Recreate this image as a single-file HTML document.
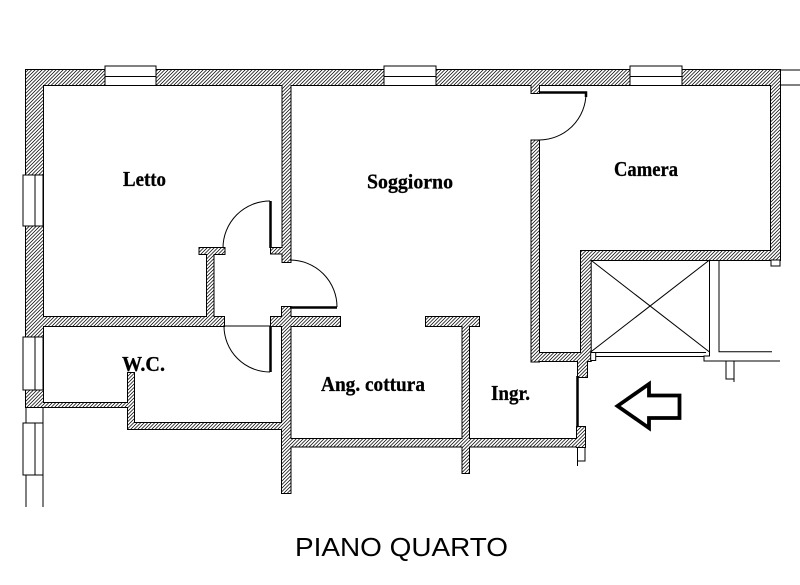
<!DOCTYPE html>
<html><head><meta charset="utf-8"><style>html,body{margin:0;padding:0;background:#fff;}svg{display:block}</style></head>
<body>
<svg width="800" height="585" viewBox="0 0 800 585" xmlns="http://www.w3.org/2000/svg">
<defs>
<pattern id="h" width="3.5" height="3.5" patternUnits="userSpaceOnUse">
<rect width="3.5" height="3.5" fill="#fff"/>
<path d="M-0.5,0.5 L0.5,-0.5 M0,3.5 L3.5,0 M3,4 L4,3" stroke="#000" stroke-width="0.75"/>
</pattern>
<g id="w">
<rect x="26" y="70" width="754" height="15"/>
<rect x="26" y="70" width="17" height="337"/>
<rect x="282.5" y="85" width="8" height="177"/>
<rect x="271" y="248" width="11.5" height="5.5"/>
<rect x="199.5" y="248" width="25" height="6"/>
<rect x="207" y="254" width="6.5" height="63"/>
<rect x="43" y="317" width="181" height="9"/>
<rect x="271" y="317" width="69" height="9"/>
<rect x="282" y="307" width="8.5" height="186"/>
<rect x="43" y="403" width="85" height="4"/>
<rect x="128" y="373" width="6" height="56"/>
<rect x="128" y="423" width="154" height="6"/>
<rect x="426" y="317" width="53" height="9"/>
<rect x="462.5" y="326" width="6.5" height="147"/>
<rect x="290" y="439" width="287" height="7.5"/>
<rect x="577" y="427" width="8" height="20"/>
<rect x="531.5" y="140.5" width="7.5" height="221"/>
<rect x="531.5" y="85" width="7.5" height="8"/>
<rect x="531.5" y="353" width="50" height="8"/>
<rect x="581" y="251" width="9.7" height="110"/>
<rect x="578" y="360" width="9" height="17"/>
<rect x="581" y="251" width="199" height="9"/>
<rect x="771" y="70" width="9" height="190"/>
</g>
</defs>
<rect width="800" height="585" fill="#fff"/>
<use href="#w" fill="none" stroke="#000" stroke-width="2"/>
<use href="#w" fill="url(#h)" stroke="none"/>

<g fill="#fff" stroke="#000" stroke-width="1">
<rect x="105" y="66" width="51" height="19.5"/>
<rect x="384" y="66" width="52" height="19.5"/>
<rect x="630" y="66" width="52" height="19.5"/>
<rect x="23" y="175" width="20" height="51"/>
<rect x="23" y="337" width="20" height="53"/>
<rect x="23" y="423" width="20" height="52"/>
<rect x="771" y="260" width="9" height="6"/>
<rect x="590.7" y="352.5" width="5" height="8"/>
</g>
<g fill="none" stroke="#000" stroke-width="1">
<line x1="105" y1="76.5" x2="156" y2="76.5"/>
<line x1="384" y1="76.5" x2="436" y2="76.5"/>
<line x1="630" y1="76.5" x2="682" y2="76.5"/>
<line x1="35" y1="175" x2="35" y2="226"/>
<line x1="35" y1="337" x2="35" y2="390"/>
<line x1="35" y1="423" x2="35" y2="475"/>
<line x1="26" y1="407" x2="26" y2="423"/>
<line x1="43" y1="407" x2="43" y2="423"/>
<line x1="26" y1="475" x2="26" y2="507"/>
<line x1="43" y1="475" x2="43" y2="507"/>
<line x1="780" y1="70" x2="800" y2="70"/>
<line x1="780" y1="85" x2="800" y2="85"/>
<path d="M270,201 A47,47 0 0 0 223,248"/>
<path d="M290,260 A47,47 0 0 1 337,307"/>
<path d="M224,326 A46,46 0 0 0 270,372"/>
<path d="M586,93 A47,47 0 0 1 539,140"/>
<line x1="224" y1="326" x2="271" y2="326"/>
<line x1="590.7" y1="260" x2="709.5" y2="352"/>
<line x1="709.5" y1="260" x2="590.7" y2="352"/>
<line x1="595.7" y1="352.5" x2="706" y2="352.5"/>
<line x1="595.7" y1="356.5" x2="704" y2="356.5"/>
<polyline points="709.5,260 709.5,356 704,356 704,361 780,361"/>
<polyline points="719,260 719,351.7 772,351.7"/>
<polyline points="726,361 726,379 734,379"/>
<line x1="734" y1="361" x2="734" y2="382"/>
<line x1="577.5" y1="447" x2="577.5" y2="466"/>
<polyline points="585,447 585,461 577.5,461"/>
</g>
<g stroke="#000" stroke-width="2.5" fill="none">
<line x1="270.5" y1="201" x2="270.5" y2="248"/>
<line x1="290" y1="307.5" x2="337" y2="307.5"/>
<line x1="270.5" y1="326" x2="270.5" y2="372"/>
<polyline points="539,92.5 586,92.5 586,97"/>
<line x1="577.5" y1="376" x2="577.5" y2="427"/>
</g>
<polygon points="617.5,406 649,384 649,395.5 679.5,395.5 679.5,418 649,418 649,428" fill="none" stroke="#000" stroke-width="3.8" stroke-linejoin="miter"/>

<g font-family="'Liberation Serif', serif" font-weight="bold" font-size="21" fill="#000" stroke="#000" stroke-width="0.3">
<text x="123" y="186" textLength="43" lengthAdjust="spacingAndGlyphs">Letto</text>
<text x="367" y="188.5" textLength="86" lengthAdjust="spacingAndGlyphs">Soggiorno</text>
<text x="614" y="176" textLength="64" lengthAdjust="spacingAndGlyphs">Camera</text>
<text x="122" y="371" textLength="43" lengthAdjust="spacingAndGlyphs">W.C.</text>
<text x="321" y="391" textLength="104" lengthAdjust="spacingAndGlyphs">Ang. cottura</text>
<text x="491" y="400" textLength="39" lengthAdjust="spacingAndGlyphs">Ingr.</text>
</g>
<text x="295" y="556" font-family="'Liberation Sans', Arial, sans-serif" font-size="26" fill="#000" textLength="213" lengthAdjust="spacingAndGlyphs">PIANO QUARTO</text>
</svg>
</body></html>
